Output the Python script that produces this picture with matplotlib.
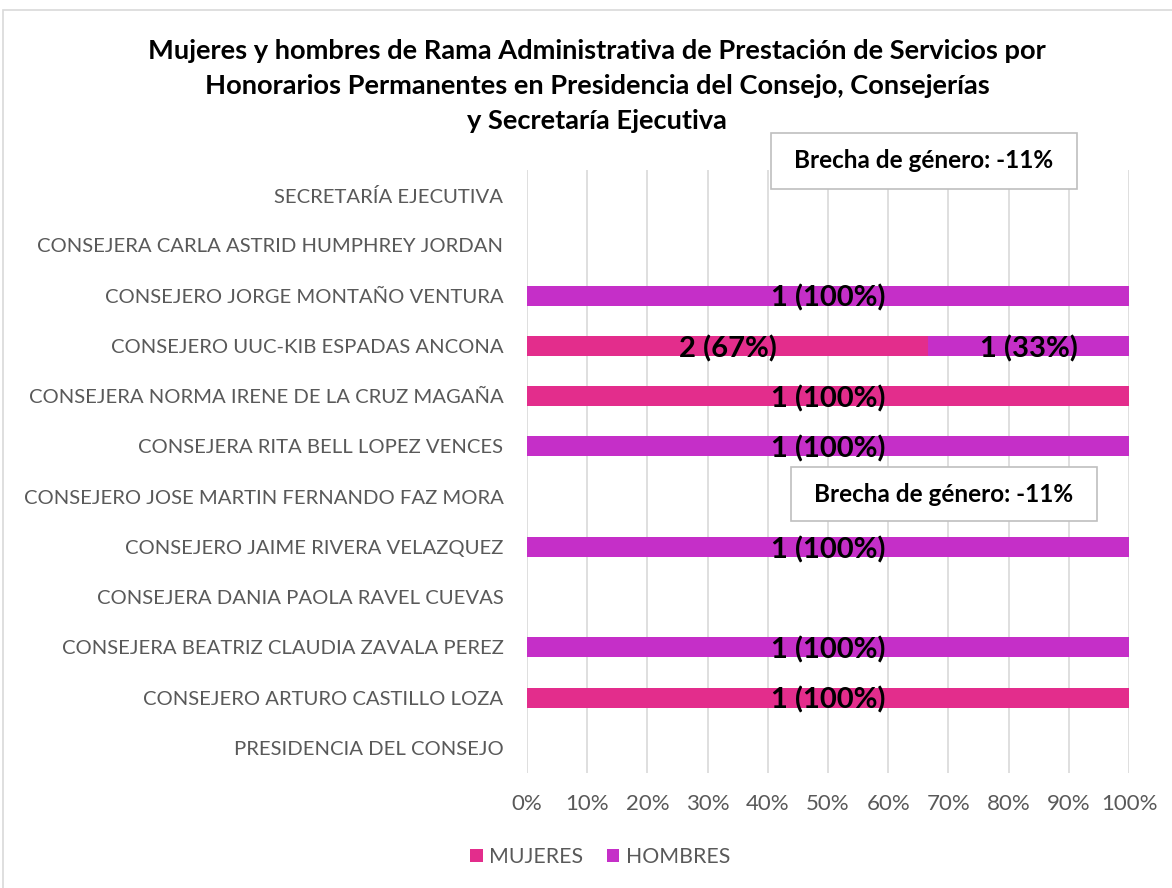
import matplotlib
matplotlib.use("Agg")
import matplotlib.pyplot as plt
from matplotlib.patches import Rectangle

plt.rcParams['font.family'] = ['Lato', 'DejaVu Sans']

categories = [
    "PRESIDENCIA DEL CONSEJO",
    "CONSEJERO ARTURO CASTILLO LOZA",
    "CONSEJERA BEATRIZ CLAUDIA ZAVALA PEREZ",
    "CONSEJERA DANIA PAOLA RAVEL CUEVAS",
    "CONSEJERO JAIME RIVERA VELAZQUEZ",
    "CONSEJERO JOSE MARTIN FERNANDO FAZ MORA",
    "CONSEJERA RITA BELL LOPEZ VENCES",
    "CONSEJERA NORMA IRENE DE LA CRUZ MAGAÑA",
    "CONSEJERO UUC-KIB ESPADAS ANCONA",
    "CONSEJERO JORGE MONTAÑO VENTURA",
    "CONSEJERA CARLA ASTRID HUMPHREY JORDAN",
    "SECRETARÍA EJECUTIVA",
]
mujeres = [0, 1, 0, 0, 0, 0, 0, 1, 2, 0, 0, 0]
hombres = [0, 0, 1, 0, 1, 0, 1, 0, 1, 1, 0, 0]
xticks = [0, 10, 20, 30, 40, 50, 60, 70, 80, 90, 100]
title = ("Mujeres y hombres de Rama Administrativa de Prestación de Servicios por\n"
         "Honorarios Permanentes en Presidencia del Consejo, Consejerías\n"
         "y Secretaría Ejecutiva")
brecha = "Brecha de género: -11%"

c_m = "#E32D8C"
c_h = "#C52FC8"

W, H = 1172, 888
fig = plt.figure(figsize=(W / 100, H / 100), dpi=100)
fig.patches.append(Rectangle((3/W, -0.1), 1.2, 1 - 10/H + 0.1, transform=fig.transFigure,
                             fill=False, edgecolor="#D9D9D9", linewidth=1.2))
ax = fig.add_axes([527/W, 1 - 773/H, (1129 - 527)/W, (773 - 170)/H])

tot = [m + h for m, h in zip(mujeres, hombres)]
pm = [100 * m / t if t else 0 for m, t in zip(mujeres, tot)]
ph = [100 * h / t if t else 0 for h, t in zip(hombres, tot)]
ys = list(range(len(categories)))

ax.barh(ys, pm, height=0.4, color=c_m, label="MUJERES", zorder=2)
ax.barh(ys, ph, left=pm, height=0.4, color=c_h, label="HOMBRES", zorder=2)

for y, m, h, a, b in zip(ys, mujeres, hombres, pm, ph):
    if m:
        ax.text(a / 2, y - 0.05, f"{m} ({a:.0f}%)", ha="center", va="center",
                fontsize=21, fontweight="bold", color="black", zorder=3)
    if h:
        ax.text(a + b / 2, y - 0.05, f"{h} ({b:.0f}%)", ha="center", va="center",
                fontsize=21, fontweight="bold", color="black", zorder=3)

ax.set_xlim(0, 100)
ax.set_ylim(-0.5, len(categories) - 0.5)
ax.set_xticks(xticks)
ax.set_xticklabels([f"{t}%" for t in xticks])
ax.set_yticks(ys)
ax.set_yticklabels(categories)
ax.tick_params(axis="x", length=0, labelsize=16, colors="#595959", pad=15)
ax.tick_params(axis="y", length=0, labelsize=14.6, colors="#595959", pad=17)
ax.grid(axis="x", color="#D9D9D9", linewidth=1.2, zorder=0)
for s in ax.spines.values():
    s.set_visible(False)

fig.text(597/W, 1 - 86/H, title, ha="center", va="center", fontsize=19.6,
         fontweight="bold", color="black", linespacing=1.56)

for (x0, y0, x1, y1) in [(771, 133, 1077, 189), (791, 467, 1097, 521)]:
    fig.patches.append(Rectangle((x0/W, 1 - y1/H), (x1 - x0)/W, (y1 - y0)/H,
                                 transform=fig.transFigure, facecolor="white",
                                 edgecolor="#BFBFBF", linewidth=1.2, zorder=5))
    fig.text((x0 + x1) / 2 / W, 1 - (y0 + y1) / 2 / H, brecha, ha="center", va="center",
             fontsize=17.5, fontweight="bold", color="black", zorder=6)

fig.legend(loc="center", bbox_to_anchor=(600/W, 1 - 857/H), ncol=2, frameon=False,
           fontsize=15.3, labelcolor="#595959", handlelength=0.6, handleheight=0.6,
           handletextpad=0.3, columnspacing=1.1)

fig.savefig("out.png", dpi=100)
